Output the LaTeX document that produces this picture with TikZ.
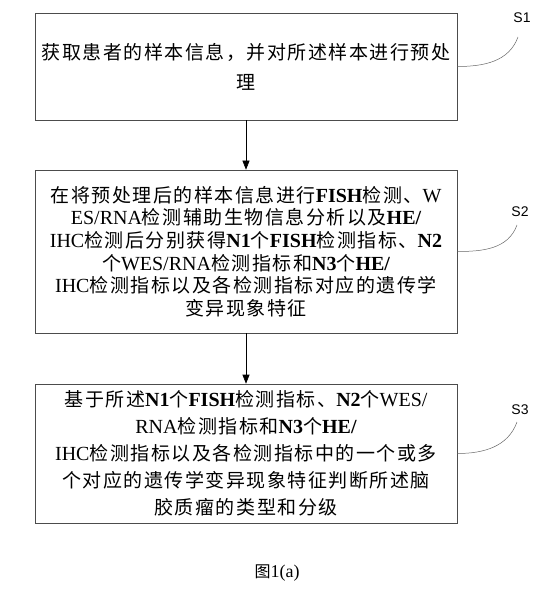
\documentclass[tikz,border=0pt]{standalone}
\usepackage{fontspec}
\setmainfont{Liberation Serif}
\newfontfamily\zhfont{Noto Sans CJK SC}[LetterSpace=8]
\newfontfamily\zhplain{Noto Sans CJK SC}
\newfontfamily\enfont{Liberation Serif}
\newfontfamily\labfont{Liberation Sans}
\newcommand\en[1]{{\enfont\fontsize{20bp}{20bp}\selectfont #1}}
\newcommand\enb[1]{{\enfont\bfseries\fontsize{20bp}{20bp}\selectfont #1}}
\usetikzlibrary{arrows.meta,shapes}

\tikzset{
  stepbox/.style={draw=black!70,line width=.6pt,align=center,inner xsep=1bp,text width=420bp},
  leader/.style={draw=black!60,line width=.5pt},
  steplabel/.style={font=\labfont\fontsize{14bp}{14bp}\selectfont},
}

\begin{document}
\begin{tikzpicture}[x=1bp,y=-1bp]
\useasboundingbox (0,0) rectangle (553,600);
\node[stepbox,minimum height=107bp,font=\zhfont\fontsize{19bp}{30bp}\selectfont] (n1) at (246,66.5) {获取患者的样本信息，并对所述样本进行预处\\理\par\vspace{7bp}};
\node[stepbox,minimum height=163bp,font=\zhfont\fontsize{19bp}{22.7bp}\selectfont] (n2) at (246,251.5) {在将预处理后的样本信息进行\enb{FISH}检测、\en{W}\\
\en{ES/RNA}检测辅助生物信息分析以及\enb{HE/}\\
\en{IHC}检测后分别获得\enb{N1}个\enb{FISH}检测指标、\enb{N2}\\
个\en{WES/RNA}检测指标和\enb{N3}个\enb{HE/}\\
\en{IHC}检测指标以及各检测指标对应的遗传学\\
变异现象特征\par\vspace{24bp}};
\node[stepbox,minimum height=139bp,font=\zhfont\fontsize{19bp}{27bp}\selectfont] (n3) at (246,453.5) {基于所述\enb{N1}个\enb{FISH}检测指标、\enb{N2}个\en{WES/}\\
\en{RNA}检测指标和\enb{N3}个\enb{HE/}\\
\en{IHC}检测指标以及各检测指标中的一个或多\\
个对应的遗传学变异现象特征判断所述脑\\
胶质瘤的类型和分级\par\vspace{11bp}};
\draw[-{Triangle[length=9bp,width=7bp]},line width=.6pt] (n1) -- (n2);
\draw[-{Triangle[length=9bp,width=7bp]},line width=.6pt] (n2) -- (n3);
% step labels
\node[steplabel] (l1) at (522,18) {S1};
\node[steplabel] (l2) at (520,212) {S2};
\node[steplabel] (l3) at (520,410) {S3};
\coordinate (e1) at (518,37);
\coordinate (e2) at (517,225);
\coordinate (e3) at (517,422);
\draw[leader] (n1.east) to[out=0,in=-110] (e1);
\draw[leader] (n2.east) to[out=0,in=-110] (e2);
\draw[leader] (n3.east) to[out=0,in=-110] (e3);
\node (cap) at (277,573) {{\zhplain\fontsize{16bp}{16bp}\selectfont 图}{\fontsize{18bp}{18bp}\selectfont 1(a)}};
\end{tikzpicture}
\end{document}
